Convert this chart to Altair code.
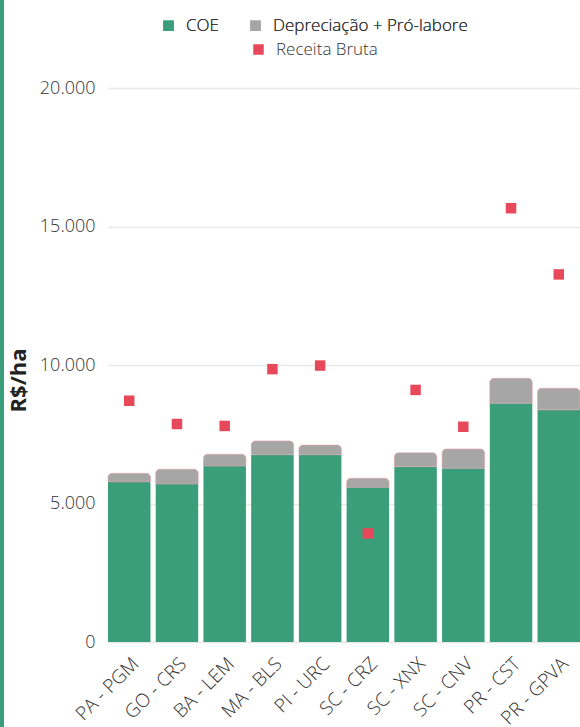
import altair as alt
import pandas as pd

locais = ["PA - PGM", "GO - CRS", "BA - LEM", "MA - BLS", "PI - URC",
          "SC - CRZ", "SC - XNX", "SC - CNV", "PR - CST", "PR - GPVA"]
coe = [5780, 5700, 6350, 6760, 6760, 5590, 6330, 6270, 8620, 8380]
depreciacao = [310, 540, 430, 500, 350, 320, 500, 700, 900, 780]
receita = [8710, 7870, 7800, 9850, 9980, 3920, 9100, 7770, 15660, 13270]

GREEN = "#3a9e7a"
GRAY = "#a6a6a6"
RED = "#e8495a"
FONT = "Open Sans"

df = pd.DataFrame({
    "local": locais,
    "coe": coe,
    "dep": depreciacao,
    "receita": receita,
})
df["total"] = df["coe"] + df["dep"]
df["s_rec"] = "Receita Bruta"

x = alt.X("local:N", sort=locais, title=None,
          scale=alt.Scale(paddingInner=0.11, paddingOuter=0),
          axis=alt.Axis(labelAngle=-45, ticks=False, domain=False, grid=False,
                        labelFontSize=19, labelColor="#333333",
                        labelFont=FONT, labelFontWeight=300, labelPadding=12))

yscale = alt.Scale(domain=[0, 20000])
yaxis = alt.Axis(values=[0, 5000, 10000, 15000, 20000],
                 labelExpr="replace(format(datum.value, ','), ',', '.')",
                 labelFontSize=18, labelColor="#333333", labelFont=FONT,
                 labelFontWeight=300,
                 labelPadding=13, ticks=False, domain=False,
                 gridColor="#e8e8e8", gridWidth=1.5,
                 title="R$/ha", titleFont=FONT, titleFontSize=22,
                 titleFontWeight="bold", titleColor="#222222",
                 titleAngle=270, titleX=-90, titleY=292,
                 titleAlign="center", titleBaseline="middle")

color_bars = alt.Color(
    "serie:N",
    scale=alt.Scale(domain=["COE", "Depreciação + Pró-labore"], range=[GREEN, GRAY]),
    legend=alt.Legend(title=None, orient="none", direction="horizontal",
                      legendX=52, legendY=-71, symbolType="square",
                      symbolSize=110, symbolStrokeWidth=0,
                      labelFontSize=17, labelFont=FONT, labelColor="#333333",
                      labelFontWeight=300, labelLimit=0,
                      labelOffset=9, columnPadding=28, padding=0),
)

base = alt.Chart(df)

green = base.transform_calculate(serie="'COE'").mark_bar(color=GREEN).encode(
    x=x,
    y=alt.Y("coe:Q", scale=yscale, axis=yaxis),
    color=color_bars,
)

gray = base.transform_calculate(serie="'Depreciação + Pró-labore'").mark_bar(
    cornerRadiusTopLeft=4, cornerRadiusTopRight=4,
    stroke="#eaa0aa", strokeWidth=0.8, strokeOpacity=0.7,
).encode(
    x=x,
    y=alt.Y("total:Q", scale=yscale, axis=yaxis),
    y2="coe:Q",
    color=color_bars,
)

points = base.mark_point(shape="square", filled=True, size=110, opacity=1).encode(
    x=x,
    y=alt.Y("receita:Q", scale=yscale, axis=yaxis),
    color=alt.Color(
        "s_rec:N",
        scale=alt.Scale(domain=["Receita Bruta"], range=[RED]),
        legend=alt.Legend(title=None, orient="none", direction="horizontal",
                          legendX=142, legendY=-47, symbolType="square",
                          symbolSize=110, symbolStrokeWidth=0,
                          labelFontSize=17, labelFont=FONT, labelColor="#333333",
                          labelFontWeight=300, labelLimit=0,
                          labelOffset=9, padding=0),
    ),
)

strip = alt.Chart(alt.Data(values=[{"a": 1}])).mark_rule(
    color=GREEN, strokeWidth=4
).encode(x=alt.value(-106), y=alt.value(-88), y2=alt.value(639))

chart = alt.layer(strip, green, gray, points).resolve_scale(
    color="independent"
).properties(
    width=472,
    height=554,
    background="white",
    autosize=alt.AutoSizeParams(type="none"),
    padding={"left": 108, "top": 88, "right": 0, "bottom": 85},
).configure_view(strokeWidth=0).configure_axis(domain=False)

chart.save("out.html", embed_options={"renderer": "svg", "actions": False})
